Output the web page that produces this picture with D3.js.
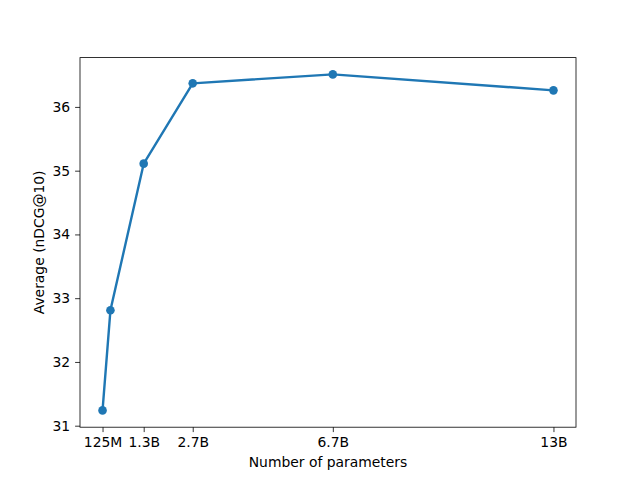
<!DOCTYPE html>
<html>
<head>
<meta charset="utf-8">
<script src="https://cdn.jsdelivr.net/npm/d3@7"></script>
<style>
  body { margin: 0; background: #fff; }
  text { font-family: "DejaVu Sans", sans-serif; }
</style>
</head>
<body>
<script>
// model sizes in billions of parameters
const sizes = [0.125, 0.35, 1.3, 2.7, 6.7, 13];
const scores = [31.24, 32.81, 35.11, 36.37, 36.51, 36.26];
const xTicks = [0.125, 1.3, 2.7, 6.7, 13];
const xTickLabels = ["125M", "1.3B", "2.7B", "6.7B", "13B"];
const yTicks = [31, 32, 33, 34, 35, 36];

const width = 640, height = 480;
const margin = {left: 80, right: 64, top: 57.6, bottom: 52.8};
const color = "#1f77b4";

function padded(ext) {
    let r = ext[1] - ext[0];
    return [ext[0] - r * 0.05, ext[1] + r * 0.05];
}

const svg = d3.select("body").append("svg")
    .attr("width", width)
    .attr("height", height);

const x = d3.scaleLinear()
    .domain(padded(d3.extent(sizes)))
    .range([margin.left, width - margin.right]);
const y = d3.scaleLinear()
    .domain(padded(d3.extent(scores)))
    .range([height - margin.bottom, margin.top]);

const data = sizes.map((s, i) => ({x: s, y: scores[i]}));

// line + markers
svg.append("path")
    .datum(data)
    .attr("fill", "none")
    .attr("stroke", color)
    .attr("stroke-width", 2.4)
    .attr("stroke-linejoin", "round")
    .attr("d", d3.line().x(d => x(d.x)).y(d => y(d.y)));

svg.append("g")
    .selectAll("circle")
    .data(data)
    .enter().append("circle")
    .attr("cx", d => x(d.x))
    .attr("cy", d => y(d.y))
    .attr("r", 4.3)
    .attr("fill", color);

// axes
const xAxis = svg.append("g")
    .attr("transform", `translate(0,${height - margin.bottom})`)
    .call(d3.axisBottom(x).tickValues(xTicks)
        .tickFormat((d, i) => xTickLabels[i])
        .tickSize(4.9).tickPadding(4.9).tickSizeOuter(0));
const yAxis = svg.append("g")
    .attr("transform", `translate(${margin.left},0)`)
    .call(d3.axisLeft(y).tickValues(yTicks)
        .tickFormat(d3.format("d"))
        .tickSize(4.9).tickPadding(4.9).tickSizeOuter(0));

[xAxis, yAxis].forEach(function(a) {
    a.select(".domain").remove();
    a.selectAll(".tick line").attr("stroke", "#000").attr("stroke-width", 0.8);
    a.selectAll(".tick text")
        .attr("fill", "#000")
        .style("font-size", "13.9px")
        .style("font-family", "DejaVu Sans");
});

// frame
svg.append("rect")
    .attr("x", margin.left)
    .attr("y", margin.top)
    .attr("width", width - margin.left - margin.right)
    .attr("height", height - margin.top - margin.bottom)
    .attr("fill", "none")
    .attr("stroke", "#000")
    .attr("stroke-width", 0.8);

// labels
svg.append("text")
    .attr("x", (margin.left + width - margin.right) / 2)
    .attr("y", 467)
    .attr("text-anchor", "middle")
    .style("font-size", "13.9px")
    .text("Number of parameters");

svg.append("text")
    .attr("transform", `translate(44,${(margin.top + height - margin.bottom) / 2}) rotate(-90)`)
    .attr("text-anchor", "middle")
    .style("font-size", "13.9px")
    .text("Average (nDCG@10)");
</script>
</body>
</html>
